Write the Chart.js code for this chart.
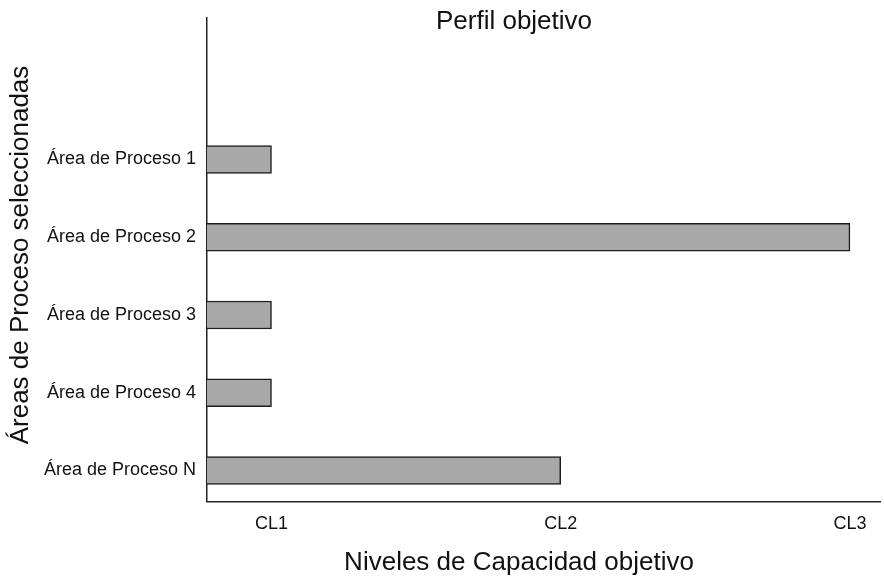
<!DOCTYPE html>
<html>
<head>
<meta charset="utf-8">
<script src="https://cdn.jsdelivr.net/npm/chart.js@4"></script>
<style>
  html, body { margin: 0; padding: 0; background: #fff; }
  #wrap { width: 884px; height: 578px; }
</style>
</head>
<body>
<div id="wrap"><canvas id="profileChart" width="884" height="578"></canvas></div>
<script>
const categories = ["Área de Proceso 1", "Área de Proceso 2", "Área de Proceso 3", "Área de Proceso 4", "Área de Proceso N"];
const levels = [1, 3, 1, 1, 2];
const levelLabels = ["CL1", "CL2", "CL3"];

const chartTitle = "Perfil objetivo";
const xTitle = "Niveles de Capacidad objetivo";
const yTitle = "Áreas de Proceso seleccionadas";

const FONT = "'Liberation Sans', Arial, Helvetica, sans-serif";
const n = categories.length;

// first category sits at the top of the linear y axis
const points = levels.map((v, i) => ({ x: v, y: n - i }));

const titlesPlugin = {
  id: "titles",
  afterDraw(chart) {
    const c = chart.ctx;
    c.save();
    c.fillStyle = "#111";
    c.font = "26px " + FONT;
    c.textAlign = "center";
    c.textBaseline = "alphabetic";
    c.fillText(chartTitle, 514, 29);
    c.fillText(xTitle, 519, 570);
    c.translate(28, 255);
    c.rotate(-Math.PI / 2);
    c.fillText(yTitle, 0, 0);
    c.restore();
  },
};

const config = {
  type: "bar",
  data: {
    datasets: [
      {
        label: "Nivel",
        data: points,
        backgroundColor: "#a8a8a8",
        borderColor: "#1e1e1e",
        borderWidth: 1.5,
        borderSkipped: false,
        barThickness: 28,
      },
    ],
  },
  options: {
    indexAxis: "y",
    responsive: false,
    animation: false,
    layout: { padding: { left: 0, right: 4, top: 18, bottom: 0 } },
    plugins: {
      legend: { display: false },
      title: { display: false },
      tooltip: { enabled: false },
    },
    scales: {
      x: {
        type: "linear",
        min: 0.777,
        max: 3.104,
        grid: { display: false, drawTicks: false },
        border: { display: true, color: "#222", width: 1.5 },
        afterBuildTicks: (scale) => {
          scale.ticks = levelLabels.map((l, i) => ({ value: i + 1 }));
        },
        afterFit: (scale) => {
          scale.height = 76.5;
          scale.paddingLeft = 0;
          scale.paddingRight = 0;
        },
        ticks: {
          padding: 12,
          color: "#111",
          font: { family: FONT, size: 18 },
          callback: (v) => levelLabels[v - 1],
        },
      },
      y: {
        type: "linear",
        offset: false,
        min: 0.601,
        max: 6.82,
        grid: { display: false, drawTicks: false, offset: false },
        border: { display: true, color: "#222", width: 1.5 },
        afterBuildTicks: (scale) => {
          scale.ticks = categories.map((c, i) => ({ value: n - i }));
        },
        afterFit: (scale) => {
          scale.width = 207;
          scale.paddingTop = 0;
          scale.paddingBottom = 0;
        },
        ticks: {
          padding: 11,
          color: "#111",
          font: { family: FONT, size: 18 },
          callback: (v) => categories[n - v],
        },
      },
    },
  },
  plugins: [titlesPlugin],
};

new Chart(document.getElementById("profileChart"), config);
</script>
</body>
</html>
